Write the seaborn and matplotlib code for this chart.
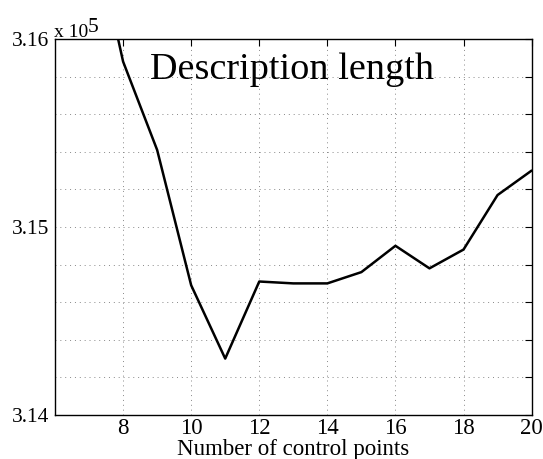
import numpy as np
import pandas as pd
import matplotlib
matplotlib.use("Agg")
import matplotlib.pyplot as plt
from matplotlib.ticker import FixedLocator, FuncFormatter
import seaborn as sns

# dados
n_pontos = [7, 8, 9, 10, 11, 12, 13, 14, 15, 16, 17, 18, 19, 20]
comprimento = [316700, 315880, 315410, 314690, 314300, 314710, 314700, 314700,
               314760, 314900, 314780, 314880, 315170, 315300]

df = pd.DataFrame({"n": n_pontos, "dl": comprimento})

sns.set_theme(style="white")
plt.rcParams['font.family'] = ['Liberation Serif', 'DejaVu Serif']
plt.rcParams['text.color'] = 'black'
plt.rcParams['axes.labelcolor'] = 'black'
plt.rcParams['xtick.color'] = 'black'
plt.rcParams['ytick.color'] = 'black'

fig = plt.figure(figsize=(5.43, 4.59), dpi=100)
ax = fig.add_axes([0.1013, 0.0959, 0.979 - 0.1013, 0.915 - 0.0959])

sns.lineplot(data=df, x="n", y="dl", color="black", linewidth=1.8, ax=ax)

ax.set_xlim(6, 20)
ax.set_ylim(314000, 316000)
ax.xaxis.set_major_locator(FixedLocator([8, 10, 12, 14, 16, 18, 20]))
ax.yaxis.set_major_locator(FixedLocator(np.arange(314000, 316001, 200)))

def fmt_y(v, pos):
    if abs(v / 1000 - round(v / 1000)) < 1e-6:
        return f"{v / 1e5:.2f}"
    return ""

ax.yaxis.set_major_formatter(FuncFormatter(fmt_y))
ax.tick_params(axis="both", direction="in", length=5, width=0.8, color="black",
               labelcolor="black", top=True, right=True, pad=4)
ax.tick_params(axis="y", labelsize=15.5)
ax.tick_params(axis="x", labelsize=16.5, pad=2)

ax.grid(True, linestyle=(0, (1, 4)), color="#888888", linewidth=0.7)
for sp in ax.spines.values():
    sp.set_color("black")
    sp.set_linewidth(1.0)

ax.set_xlabel("Number of control points", fontsize=16.5, labelpad=0, color="black")
ax.set_ylabel("")

ax.text(12.95, 315835, "Description length", fontsize=27.5, ha="center", va="center",
        color="black")

fig.text(54 / 543, 1 - 37 / 459, "x 10", fontsize=14, ha="left", va="baseline")
fig.text(88 / 543, 1 - 32 / 459, "5", fontsize=15.5, ha="left", va="baseline")

fig.savefig("out.png", dpi=100, facecolor="white")
